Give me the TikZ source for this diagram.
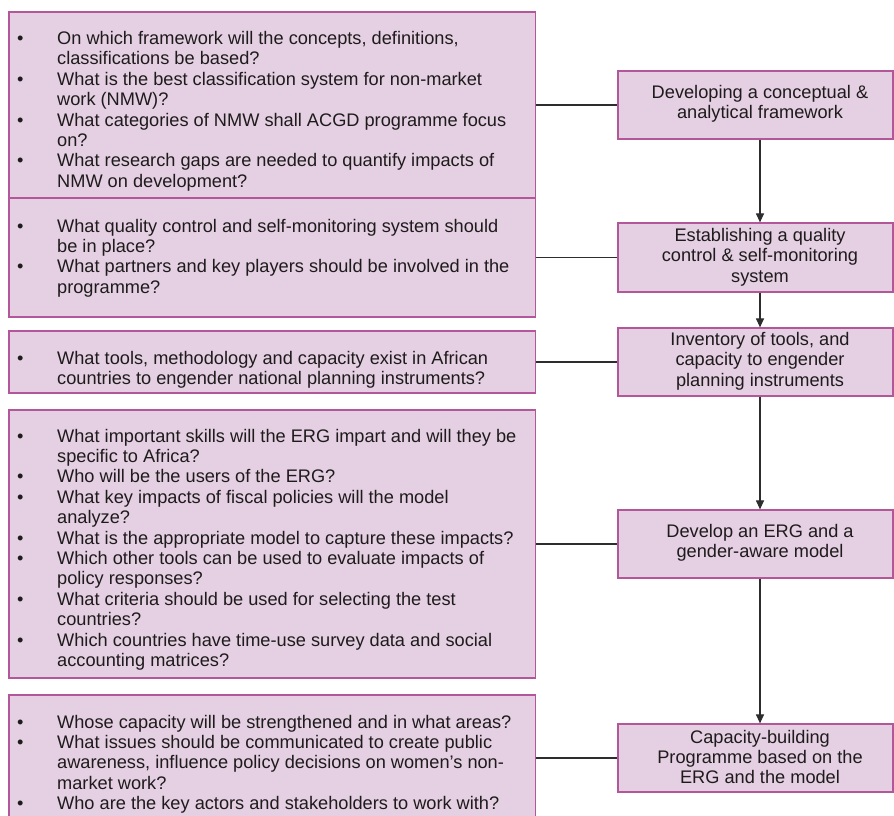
\documentclass[tikz,border=0pt]{standalone}
\usepackage{fontspec}
\setmainfont{Liberation Sans}
\usetikzlibrary{arrows.meta}
\definecolor{boxfill}{RGB}{229,207,226}
\definecolor{boxdraw}{RGB}{180,86,154}
\definecolor{txt}{RGB}{30,27,28}
\definecolor{conn}{RGB}{45,45,45}
\newcommand{\qlist}[1]{\begin{tabular}[t]{@{}p{40pt}@{}l@{}}#1\end{tabular}}
\newcommand{\bu}{•}
\begin{document}
\begin{tikzpicture}[x=1pt,y=-1pt,
  lbox/.style={draw=boxdraw, fill=boxfill, line width=1.2pt, rectangle, inner sep=0pt, minimum width=526.5pt},
  rbox/.style={draw=boxdraw, fill=boxfill, line width=1.2pt, rectangle, inner sep=0pt, minimum width=275pt},
  qtext/.style={anchor=base west, inner sep=0pt, text=txt, font=\fontsize{18.2}{20.4}\selectfont},
  rtext/.style={align=center, inner sep=0pt, text=txt, font=\fontsize{18.2}{20.4}\selectfont},
  conn/.style={draw=conn, line width=1.1pt},
  arr/.style={draw=conn, line width=1.1pt, -{Triangle[length=9pt,width=8pt]}}]
\useasboundingbox (0,0) rectangle (894,815);

% left question boxes
\node[lbox, minimum height=186pt] (q1) at (272.25,105) {};
\node[lbox, minimum height=119pt] (q2) at (272.25,257.5) {};
\node[lbox, minimum height=62pt] (q3) at (272.25,362) {};
\node[lbox, minimum height=268pt] (q4) at (272.25,544) {};
\node[lbox, minimum height=126pt] (q5) at (272.25,758) {};

\node[qtext] (t1) at (17,44.5) {\qlist{%
\bu & On which framework will the concepts, definitions,\\
 & classifications be based?\\
\bu & What is the best classification system for non-market\\
 & work (NMW)?\\
\bu & What categories of NMW shall ACGD programme focus\\
 & on?\\
\bu & What research gaps are needed to quantify impacts of\\
 & NMW on development?}};

\node[qtext] (t2) at (17,232) {\qlist{%
\bu & What quality control and self-monitoring system should\\
 & be in place?\\
\bu & What partners and key players should be involved in the\\
 & programme?}};

\node[qtext] (t3) at (17,364) {\qlist{%
\bu & What tools, methodology and capacity exist in African\\
 & countries to engender national planning instruments?}};

\node[qtext] (t4) at (17,442) {\qlist{%
\bu & What important skills will the ERG impart and will they be\\
 & specific to Africa?\\
\bu & Who will be the users of the ERG?\\
\bu & What key impacts of fiscal policies will the model\\
 & analyze?\\
\bu & What is the appropriate model to capture these impacts?\\
\bu & Which other tools can be used to evaluate impacts of\\
 & policy responses?\\
\bu & What criteria should be used for selecting the test\\
 & countries?\\
\bu & Which countries have time-use survey data and social\\
 & accounting matrices?}};

\node[qtext] (t5) at (17,728) {\qlist{%
\bu & Whose capacity will be strengthened and in what areas?\\
\bu & What issues should be communicated to create public\\
 & awareness, influence policy decisions on women's non-\\
 & market work?\\
\bu & Who are the key actors and stakeholders to work with?}};

% right step boxes
\node[rbox, minimum height=68pt] (r1) at (755.5,105) {};
\node[rbox, minimum height=69pt] (r2) at (755.5,257.5) {};
\node[rbox, minimum height=68pt] (r3) at (755.5,362) {};
\node[rbox, minimum height=68pt] (r4) at (755.5,544) {};
\node[rbox, minimum height=68pt] (r5) at (755.5,758) {};

\node[rtext] (s1) at (760,104) {Developing a conceptual \&\\analytical framework};
\node[rtext] (s2) at (760,257) {Establishing a quality\\control \& self-monitoring\\system};
\node[rtext] (s3) at (760,361) {Inventory of tools, and\\capacity to engender\\planning instruments};
\node[rtext] (s4) at (760,543) {Develop an ERG and a\\gender-aware model};
\node[rtext] (s5) at (760,757) {Capacity-building\\Programme based on the\\ERG and the model};

% connectors
\draw[conn] (q1.east) -- (r1.west);
\draw[conn] (q2.east) -- (r2.west);
\draw[conn] (q3.east) -- (r3.west);
\draw[conn] (q4.east) -- (r4.west);
\draw[conn] (q5.east) -- (r5.west);

\draw[arr] (r1.south -| s1) -- (r2.north -| s2);
\draw[arr] (r2.south -| s2) -- (r3.north -| s3);
\draw[arr] (r3.south -| s3) -- (r4.north -| s4);
\draw[arr] (r4.south -| s4) -- (r5.north -| s5);
\end{tikzpicture}
\end{document}
